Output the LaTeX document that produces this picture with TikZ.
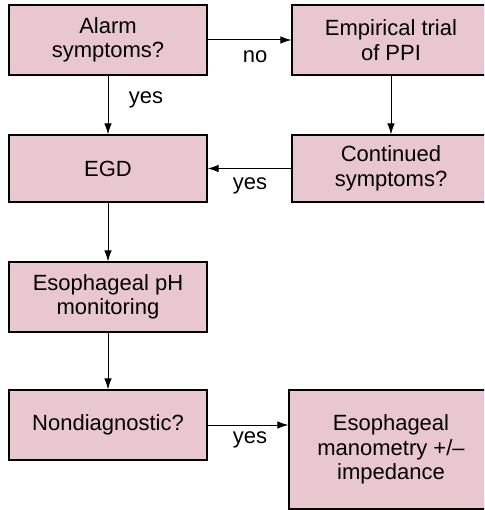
\documentclass[tikz,border=0pt]{standalone}
\usepackage{fontspec}
\setmainfont{Liberation Sans}
\usetikzlibrary{arrows.meta}
\definecolor{boxfill}{HTML}{E8C7CE}
\begin{document}
\begin{tikzpicture}[x=1pt,y=-1pt,
  box/.style={draw=black, fill=boxfill, line width=1.1pt, align=center,
    font=\fontsize{22}{24.5}\selectfont, inner sep=0pt,
    minimum width=198pt, minimum height=70pt},
  link/.style={-{Latex[length=11pt,width=7.5pt]}, line width=1pt},
  lbl/.style={font=\fontsize{22}{25}\selectfont, inner sep=0pt}]
\clip (0,0) rectangle (484,510);
\fill[white] (0,0) rectangle (484,510);

\node[box] (alarm) at (108,40) {Alarm\\symptoms?};
\node[box] (ppi)   at (391,40) {Empirical trial\\of PPI};
\node[box, minimum height=67pt] (egd)  at (108,168.5) {EGD};
\node[box, minimum height=67pt] (cont) at (391,168.5) {Continued\\symptoms?};
\node[box] (ph)    at (108,297) {Esophageal pH\\monitoring};
\node[box] (nd)    at (108,425) {Nondiagnostic?};
\node[box, minimum width=204pt, minimum height=119pt] (mano) at (391,449.5)
  {Esophageal\\manometry +/\textendash\\impedance};

\draw[link] (alarm.east) -- (ppi.west);
\draw[link] (alarm.south) -- (egd.north);
\draw[link] (ppi.south) -- (cont.north);
\draw[link] (cont.west) -- (egd.east);
\draw[link] (egd.south) -- (ph.north);
\draw[link] (ph.south) -- (nd.north);
\draw[link] (nd.east) -- (nd.east -| mano.west);

\node[lbl] (lno)   at (255,57)  {no};
\node[lbl] (lyes1) at (146,100) {yes};
\node[lbl] (lyes2) at (250,186) {yes};
\node[lbl] (lyes3) at (250,440) {yes};
\end{tikzpicture}
\end{document}
